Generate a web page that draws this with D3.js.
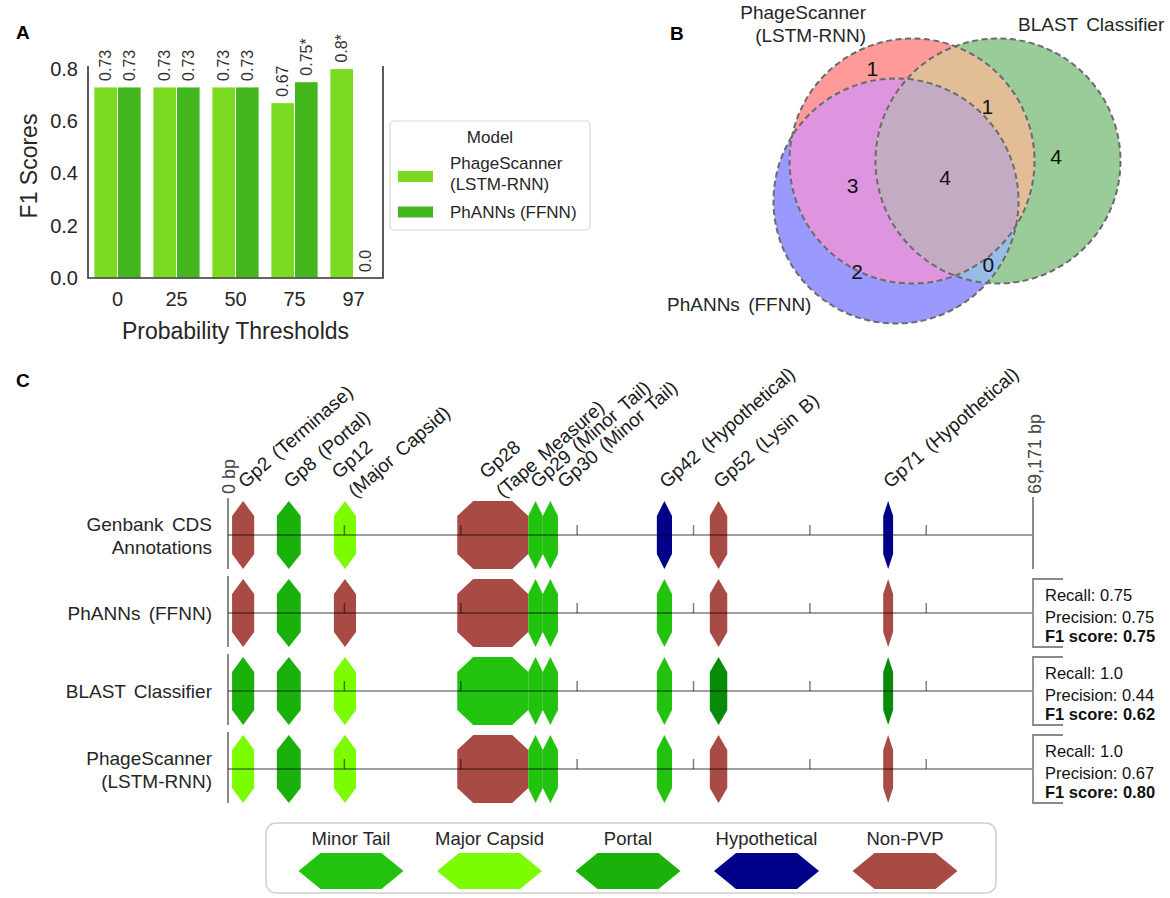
<!DOCTYPE html>
<html>
<head>
<meta charset="utf-8">
<script src="https://cdn.jsdelivr.net/npm/d3@7"></script>
<style>
  body { margin: 0; background: #fff; }
  svg { display: block; font-family: "Liberation Sans", Arial, Helvetica, sans-serif; }
</style>
</head>
<body>
<svg id="fig" width="1170" height="898"></svg>
<script>
// ---------- data: panel A ----------
var thresholds = ["0", "25", "50", "75", "97"];
var modelNames = ["PhageScanner\n(LSTM-RNN)", "PhANNs (FFNN)"];
var scannerF1 = [0.73, 0.73, 0.73, 0.67, 0.8];
var phannsF1 = [0.73, 0.73, 0.73, 0.75, 0.0];
var scannerLabels = ["0.73", "0.73", "0.73", "0.67", "0.8*"];
var phannsLabels = ["0.73", "0.73", "0.73", "0.75*", "0.0"];
var f1Ticks = [0, 0.2, 0.4, 0.6, 0.8];

// ---------- data: panel B ----------
var vennSets = ["PhageScanner\n(LSTM-RNN)", "BLAST Classifier", "PhANNs (FFNN)"];
// region key = membership in (PhageScanner, BLAST, PhANNs)
var vennRegions = ["100", "010", "001", "110", "101", "011", "111"];
var vennCounts = [1, 4, 2, 1, 3, 0, 4];

// ---------- data: panel C ----------
var genomeLength = 69171;
var geneLabels = ["Gp2 (Terminase)", "Gp8 (Portal)", "Gp12\n(Major Capsid)", "Gp28\n(Tape Measure)",
  "Gp29 (Minor Tail)", "Gp30 (Minor Tail)", "Gp42 (Hypothetical)", "Gp52 (Lysin B)", "Gp71 (Hypothetical)"];
var geneStart = [350, 4200, 9100, 19700, 25800, 27050, 36850, 41400, 56300];
var geneEnd = [2250, 6250, 11000, 25800, 27050, 28350, 38150, 42900, 57150];
var tracks = ["Genbank CDS\nAnnotations", "PhANNs (FFNN)", "BLAST Classifier", "PhageScanner\n(LSTM-RNN)"];
var genbankClass = ["Non-PVP", "Portal", "Major Capsid", "Non-PVP", "Minor Tail", "Minor Tail", "Hypothetical", "Non-PVP", "Hypothetical"];
var phannsClass = ["Non-PVP", "Portal", "Non-PVP", "Non-PVP", "Minor Tail", "Minor Tail", "Minor Tail", "Non-PVP", "Non-PVP"];
var blastClass = ["Portal", "Portal", "Major Capsid", "Minor Tail", "Minor Tail", "Minor Tail", "Minor Tail", "Other PVP", "Other PVP"];
var scannerClass = ["Major Capsid", "Portal", "Major Capsid", "Non-PVP", "Minor Tail", "Minor Tail", "Minor Tail", "Non-PVP", "Non-PVP"];
var recallVals = [null, "0.75", "1.0", "1.0"];
var precisionVals = [null, "0.75", "0.44", "0.67"];
var f1Vals = [null, "0.75", "0.62", "0.80"];
var legendClasses = ["Minor Tail", "Major Capsid", "Portal", "Hypothetical", "Non-PVP"];

var svg = d3.select("#fig");
svg.append("rect").attr("width", 1170).attr("height", 898).attr("fill", "#fff");
var ink = "#262626";

function panelLetter(t, x, y) {
  svg.append("text").attr("x", x).attr("y", y).attr("font-size", 19)
    .attr("font-weight", "bold").attr("fill", "#000").text(t);
}
function multiLine(sel, str, lineH) {
  var parts = str.split("\n");
  parts.forEach(function (p, i) {
    sel.append("tspan").attr("x", sel.attr("x") || 0).attr("dy", i === 0 ? 0 : lineH).text(p);
  });
}

// ================= Panel A =================
panelLetter("A", 16, 39);
var gA = svg.append("g");
var x0 = d3.scaleBand().domain(thresholds).range([88, 383]);
var x1 = d3.scaleBand().domain([0, 1]).range([0.1 * x0.bandwidth(), 0.9 * x0.bandwidth()]);
var yA = d3.scaleLinear().domain([0, 0.81]).range([278, 66]);
var barColors = ["#7bd91f", "#43b51d"];
var series = [scannerF1, phannsF1];
var seriesLabels = [scannerLabels, phannsLabels];

series.forEach(function (vals, s) {
  gA.selectAll(".bar" + s).data(vals).enter().append("rect")
    .attr("x", function (d, i) { return x0(thresholds[i]) + x1(s); })
    .attr("y", function (d) { return yA(d); })
    .attr("width", x1.bandwidth())
    .attr("height", function (d) { return yA(0) - yA(d); })
    .attr("fill", barColors[s])
    .attr("stroke", "#fff").attr("stroke-width", 1);
  gA.selectAll(".lab" + s).data(vals).enter().append("text")
    .attr("transform", function (d, i) {
      return "translate(" + (x0(thresholds[i]) + x1(s) + x1.bandwidth() / 2) + "," + (yA(d) - 6) + ") rotate(-90)";
    })
    .attr("dy", "0.35em").attr("font-size", 16).attr("fill", "#333")
    .text(function (d, i) { return seriesLabels[s][i]; });
});

var yAxis = gA.append("g").attr("transform", "translate(88,0)")
  .call(d3.axisLeft(yA).tickValues(f1Ticks).tickFormat(d3.format(".1f")).tickSize(0).tickPadding(10));
var xAxis = gA.append("g").attr("transform", "translate(0,278)")
  .call(d3.axisBottom(x0).tickSize(0).tickPadding(14));
[yAxis, xAxis].forEach(function (ax) {
  ax.select(".domain").remove();
  ax.selectAll("text").attr("font-size", 20).attr("fill", ink)
    .attr("font-family", "Liberation Sans, Arial, sans-serif");
});
// spines
gA.append("path").attr("d", "M88," + yA(0.81) + "V" + yA(0) + "H383V" + yA(0.81))
  .attr("fill", "none").attr("stroke", "#333").attr("stroke-width", 1.6);
gA.append("text").attr("x", 235.5).attr("y", 339).attr("text-anchor", "middle")
  .attr("font-size", 23).attr("fill", ink).text("Probability Thresholds");
gA.append("text").attr("transform", "translate(37,166) rotate(-90)").attr("text-anchor", "middle")
  .attr("font-size", 23).attr("fill", ink).text("F1 Scores");

// legend
var lgA = gA.append("g");
lgA.append("rect").attr("x", 390).attr("y", 121).attr("width", 200).attr("height", 109)
  .attr("rx", 4).attr("fill", "#fff").attr("stroke", "#d8d8d8").attr("stroke-width", 1.2);
lgA.append("text").attr("x", 490).attr("y", 143).attr("text-anchor", "middle")
  .attr("font-size", 17).attr("fill", ink).text("Model");
var legRows = [{ y: 176.5, ty: 169 }, { y: 212, ty: 218 }];
modelNames.forEach(function (m, i) {
  lgA.append("rect").attr("x", 398).attr("y", legRows[i].y - 5.5).attr("width", 35).attr("height", 11)
    .attr("fill", barColors[i]);
  var t = lgA.append("text").attr("x", 450).attr("y", legRows[i].ty).attr("font-size", 17).attr("fill", ink);
  multiLine(t, m, 21);
});

// ================= Panel B =================
panelLetter("B", 670, 40);
var gB = svg.append("g");
var circles = [
  { cx: 912, cy: 161, r: 122.5 },   // PhageScanner
  { cx: 998, cy: 161, r: 122.5 },   // BLAST
  { cx: 896, cy: 201, r: 122.5 }    // PhANNs
];
var regionColors = { "100": "#fe9a9a", "010": "#99cc99", "001": "#9a9afe",
  "110": "#e3bd95", "101": "#de94de", "011": "#98bde4", "111": "#c3acc3" };
var defs = svg.append("defs");
circles.forEach(function (c, i) {
  defs.append("clipPath").attr("id", "vclip" + i).append("circle")
    .attr("cx", c.cx).attr("cy", c.cy).attr("r", c.r);
  var m = defs.append("mask").attr("id", "vmask" + i).attr("maskUnits", "userSpaceOnUse")
    .attr("x", 0).attr("y", 0).attr("width", 1170).attr("height", 898);
  m.append("rect").attr("width", 1170).attr("height", 898).attr("fill", "#fff");
  m.append("circle").attr("cx", c.cx).attr("cy", c.cy).attr("r", c.r).attr("fill", "#000");
});
function insideC(x, y, c) { return (x - c.cx) * (x - c.cx) + (y - c.cy) * (y - c.cy) <= c.r * c.r; }

vennRegions.forEach(function (key, k) {
  var g = gB;
  key.split("").forEach(function (bit, i) {
    g = g.append("g").attr(bit === "1" ? "clip-path" : "mask", "url(#" + (bit === "1" ? "vclip" : "vmask") + i + ")");
  });
  g.append("rect").attr("x", 740).attr("y", 20).attr("width", 420).attr("height", 320)
    .attr("fill", regionColors[key]);
  // label at region centroid (sampled)
  var sx = 0, sy = 0, n = 0;
  for (var x = 760; x < 1130; x += 2) {
    for (var y = 30; y < 335; y += 2) {
      var ok = true;
      for (var i = 0; i < 3; i++) {
        if ((key[i] === "1") !== insideC(x, y, circles[i])) { ok = false; break; }
      }
      if (ok) { sx += x; sy += y; n++; }
    }
  }
  gB.append("text").attr("class", "vcount").attr("x", sx / n).attr("y", sy / n)
    .attr("dy", "0.35em").attr("text-anchor", "middle").attr("font-size", 21).attr("fill", "#111")
    .text(vennCounts[k]);
});
gB.selectAll(".vring").data(circles).enter().append("circle")
  .attr("cx", function (d) { return d.cx; }).attr("cy", function (d) { return d.cy; })
  .attr("r", function (d) { return d.r; })
  .attr("fill", "none").attr("stroke", "#6b6b6b").attr("stroke-width", 2).attr("stroke-dasharray", "6,3.5");
gB.selectAll(".vcount").raise();

var vl0 = gB.append("text").attr("x", 866).attr("y", 19).attr("text-anchor", "end")
  .attr("font-size", 19).attr("fill", ink);
multiLine(vl0, vennSets[0], 23);
gB.append("text").attr("x", 1018).attr("y", 31).attr("font-size", 19).attr("fill", ink)
  .attr("word-spacing", 3).text(vennSets[1]);
gB.append("text").attr("x", 667).attr("y", 311).attr("font-size", 19).attr("fill", ink)
  .attr("word-spacing", 3).text(vennSets[2]);

// ================= Panel C =================
panelLetter("C", 16, 387);
var gC = svg.append("g");
var xC = d3.scaleLinear().domain([0, genomeLength]).range([228, 1033]);
var yC = d3.scalePoint().domain(tracks).range([535, 769]);
var classColor = d3.scaleOrdinal()
  .domain(["Minor Tail", "Major Capsid", "Portal", "Hypothetical", "Non-PVP", "Other PVP"])
  .range(["#22c30f", "#7cfc00", "#1bb10b", "#000088", "#a84b45", "#088b08"]);
var trackClasses = [genbankClass, phannsClass, blastClass, scannerClass];

function featurePoints(xa, xb, cy) {
  var h = 34, v = 15;
  var c = Math.min((xb - xa) / 2, 16);
  return [[xa + c, cy - h], [xb - c, cy - h], [xb, cy - h + v], [xb, cy + h - v],
    [xb - c, cy + h], [xa + c, cy + h], [xa, cy + h - v], [xa, cy - h + v]];
}

tracks.forEach(function (t, ti) {
  var cy = yC(t);
  var g = gC.append("g");
  // start line
  g.append("line").attr("x1", xC(0)).attr("x2", xC(0)).attr("y1", cy - 37).attr("y2", cy + 34)
    .attr("stroke", "#8a8a8a").attr("stroke-width", 2);
  g.selectAll("polygon").data(geneStart).enter().append("polygon")
    .attr("points", function (d, i) { return featurePoints(xC(d), xC(geneEnd[i]), cy).join(" "); })
    .attr("fill", function (d, i) { return classColor(trackClasses[ti][i]); });
  g.append("line").attr("x1", xC(0)).attr("x2", xC(genomeLength)).attr("y1", cy).attr("y2", cy)
    .attr("stroke", "rgba(0,0,0,0.5)").attr("stroke-width", 1.5);
  g.selectAll(".tick").data(d3.range(10000, genomeLength, 10000)).enter().append("line")
    .attr("x1", function (d) { return xC(d); }).attr("x2", function (d) { return xC(d); })
    .attr("y1", cy - 10).attr("y2", cy).attr("stroke", "rgba(0,0,0,0.5)").attr("stroke-width", 1.5);
  // track label
  var lines = t.split("\n");
  var lt = g.append("text").attr("x", 212).attr("text-anchor", "end").attr("font-size", 19).attr("fill", ink)
    .attr("word-spacing", 3).attr("y", cy + 7 - (lines.length - 1) * 11.5);
  multiLine(lt, t, 23);

  if (ti === 0) {
    g.append("line").attr("x1", xC(genomeLength)).attr("x2", xC(genomeLength))
      .attr("y1", cy - 38).attr("y2", cy + 34).attr("stroke", "#8a8a8a").attr("stroke-width", 2);
  } else {
    g.append("path").attr("d", "M" + (xC(genomeLength) + 30) + "," + (cy - 34) + "H" + xC(genomeLength) +
      "V" + (cy + 34) + "H" + (xC(genomeLength) + 30))
      .attr("fill", "none").attr("stroke", "#8a8a8a").attr("stroke-width", 1.8);
    var st = g.append("text").attr("x", 1045).attr("font-size", 16.5).attr("fill", "#111");
    st.append("tspan").attr("x", 1045).attr("y", cy - 12).text("Recall: " + recallVals[ti]);
    st.append("tspan").attr("x", 1045).attr("y", cy + 10).text("Precision: " + precisionVals[ti]);
    st.append("tspan").attr("x", 1045).attr("y", cy + 29).attr("font-weight", "bold").text("F1 score: " + f1Vals[ti]);
  }
});

// genome end labels
gC.append("text").attr("transform", "translate(" + (xC(0) + 6.5) + ",494) rotate(-90)")
  .attr("font-size", 18).attr("fill", "#444").text("0 bp");
gC.append("text").attr("transform", "translate(" + (xC(genomeLength) + 7.5) + ",494) rotate(-90)")
  .attr("font-size", 18).attr("fill", "#444").text("69,171 bp");

// gene labels, rotated, nudged apart when crowded
var prevX = -1e9;
geneLabels.forEach(function (lab, i) {
  var ax = Math.max(xC((geneStart[i] + geneEnd[i]) / 2) + 2, prevX + 27);
  prevX = ax;
  var lines = lab.split("\n");
  var t = gC.append("text").attr("transform", "translate(" + ax + ",489) rotate(-41)")
    .attr("font-size", 19).attr("fill", "#1a1a1a").attr("word-spacing", 3);
  lines.forEach(function (p, k) {
    t.append("tspan").attr("x", 0).attr("y", (k - (lines.length - 1) / 2) * 25).text(p);
  });
});

// legend
var lgC = gC.append("g");
lgC.append("rect").attr("x", 266).attr("y", 823).attr("width", 730).attr("height", 70).attr("rx", 10)
  .attr("fill", "#fff").attr("stroke", "#cfcfcf").attr("stroke-width", 1.5);
var lx = d3.scalePoint().domain(legendClasses).range([351, 905]);
legendClasses.forEach(function (c) {
  var cx = lx(c), w = 105, hh = 18, ins = 22, cy = 871;
  lgC.append("polygon")
    .attr("points", [[cx - w / 2, cy], [cx - w / 2 + ins, cy - hh], [cx + w / 2 - ins, cy - hh], [cx + w / 2, cy],
      [cx + w / 2 - ins, cy + hh], [cx - w / 2 + ins, cy + hh]].join(" "))
    .attr("fill", classColor(c));
  lgC.append("text").attr("x", cx).attr("y", 845).attr("text-anchor", "middle")
    .attr("font-size", 18.5).attr("fill", ink).text(c);
});
</script>
</body>
</html>
